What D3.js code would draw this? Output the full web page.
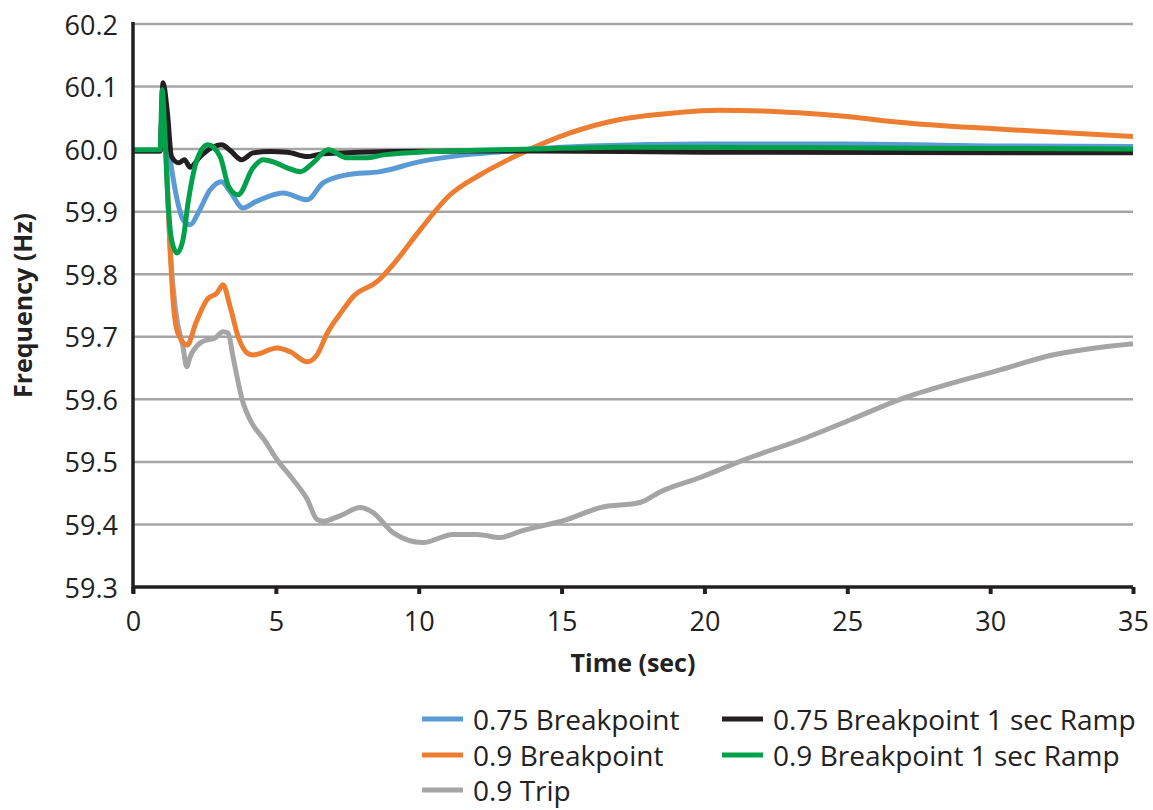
<!DOCTYPE html>
<html>
<head>
<meta charset="utf-8">
<script src="https://cdn.jsdelivr.net/npm/d3@7"></script>
<style>
  html, body { margin: 0; padding: 0; background: #fff; }
  svg { display: block; }
  text { font-family: "Open Sans", "Noto Sans", sans-serif; fill: #222; }
</style>
</head>
<body>
<svg id="chart" width="1153" height="810"></svg>
<script>
// ---- Data ----
const seriesNames = ["0.75 Breakpoint", "0.9 Breakpoint", "0.9 Trip", "0.75 Breakpoint 1 sec Ramp", "0.9 Breakpoint 1 sec Ramp"];
const seriesColors = ["#5b9bd5", "#ed7d31", "#a5a5a5", "#231f20", "#00a14b"];

const xTicks = [0, 5, 10, 15, 20, 25, 30, 35];
const yTicks = [59.3, 59.4, 59.5, 59.6, 59.7, 59.8, 59.9, 60.0, 60.1, 60.2];

const blueT = [0, 0.95, 1.05, 1.15, 1.3, 1.54, 1.75, 2.0, 2.28, 2.7, 3.1, 3.4, 3.85, 4.3, 5.25, 6.1, 6.65, 7.5, 8.65, 10.05, 11.45, 13, 14, 16, 20, 25, 30, 35];
const blueV = [59.997, 59.997, 60.09, 60.03, 59.983, 59.92, 59.887, 59.879, 59.898, 59.935, 59.948, 59.932, 59.906, 59.916, 59.930, 59.919, 59.946, 59.959, 59.964, 59.98, 59.99, 59.996, 60.0, 60.005, 60.008, 60.008, 60.005, 60.004];

const orangeT = [0, 0.95, 1.05, 1.15, 1.3, 1.4, 1.57, 1.9, 2.2, 2.6, 2.94, 3.15, 3.4, 3.68, 4.0, 4.2, 5.05, 5.5, 6.1, 6.44, 6.8, 7.35, 7.7, 8.54, 9.24, 10.05, 11.1, 12.15, 13.0, 13.9, 15.3, 17, 19, 20.5, 22, 23.3, 25, 26.8, 30.3, 35];
const orangeV = [59.997, 59.997, 60.09, 60.0, 59.84, 59.76, 59.706, 59.687, 59.722, 59.76, 59.77, 59.783, 59.748, 59.70, 59.674, 59.671, 59.682, 59.676, 59.66, 59.671, 59.706, 59.743, 59.764, 59.788, 59.823, 59.871, 59.927, 59.959, 59.98, 60.0, 60.026, 60.047, 60.058, 60.062, 60.061, 60.058, 60.052, 60.043, 60.032, 60.02];

const grayT = [0, 0.95, 1.05, 1.15, 1.3, 1.5, 1.75, 1.88, 2.0, 2.35, 2.6, 2.87, 3.15, 3.33, 3.5, 3.85, 4.1, 4.6, 5.05, 5.6, 6.1, 6.44, 6.65, 7.3, 7.95, 8.4, 9.1, 10.15, 11.2, 12.05, 12.85, 13.55, 15.2, 16.35, 17.75, 18.45, 19.85, 21.6, 23.35, 25.1, 26.85, 28.6, 30.35, 32.1, 35];
const grayV = [59.997, 59.997, 60.09, 60.0, 59.84, 59.74, 59.684, 59.652, 59.668, 59.69, 59.695, 59.698, 59.708, 59.706, 59.668, 59.595, 59.567, 59.535, 59.503, 59.472, 59.44, 59.408, 59.405, 59.415, 59.427, 59.419, 59.387, 59.371, 59.384, 59.384, 59.379, 59.389, 59.408, 59.427, 59.435, 59.452, 59.475, 59.507, 59.535, 59.567, 59.6, 59.625, 59.647, 59.67, 59.689];

const blackT = [0, 0.95, 1.05, 1.2, 1.35, 1.6, 1.8, 2.0, 2.35, 2.75, 3.1, 3.4, 3.8, 4.2, 4.8, 5.4, 6.1, 6.55, 7.5, 9, 12, 14, 20, 35];
const blackV = [59.997, 59.997, 60.106, 60.06, 59.988, 59.978, 59.983, 59.971, 59.988, 60.002, 60.007, 59.998, 59.983, 59.994, 59.996, 59.995, 59.988, 59.992, 59.994, 59.996, 59.997, 59.997, 59.995, 59.994];

const greenT = [0, 0.95, 1.02, 1.12, 1.22, 1.35, 1.54, 1.75, 1.93, 2.24, 2.62, 3.05, 3.35, 3.68, 4.2, 4.55, 5.0, 5.4, 5.85, 6.3, 6.83, 7.5, 8.2, 8.65, 10, 12, 14, 17, 20, 25, 30, 35];
const greenV = [59.999, 59.999, 60.095, 60.02, 59.92, 59.855, 59.834, 59.855, 59.915, 59.983, 60.007, 59.988, 59.94, 59.927, 59.97, 59.983, 59.978, 59.97, 59.964, 59.978, 59.999, 59.986, 59.986, 59.99, 59.995, 59.998, 60.0, 60.003, 60.003, 60.002, 60.001, 60.0];

const seriesT = [blueT, orangeT, grayT, blackT, greenT];
const seriesV = [blueV, orangeV, grayV, blackV, greenV];
const drawOrder = [2, 1, 0, 3, 4];

// ---- Layout ----
const svg = d3.select("#chart");
const x = d3.scaleLinear().domain([0, 35]).range([133, 1133]);
const y = d3.scaleLinear().domain([59.3, 60.2]).range([587, 24]);

// gridlines
svg.append("g").selectAll("line").data(yTicks.filter(d => d > 59.3)).join("line")
  .attr("x1", x(0)).attr("x2", x(35))
  .attr("y1", d => y(d)).attr("y2", d => y(d))
  .attr("stroke", "#a6a6a6").attr("stroke-width", 2.5);

// y tick labels
svg.append("g").selectAll("text").data(yTicks).join("text")
  .attr("x", 118).attr("y", d => y(d))
  .attr("text-anchor", "end").attr("dominant-baseline", "central")
  .attr("font-size", 27)
  .text(d => d.toFixed(1));

// lines
const line = d3.line().curve(d3.curveMonotoneX).x(d => x(d[0])).y(d => y(d[1]));
const gLines = svg.append("g");
drawOrder.forEach(i => {
  const pts = seriesT[i].map((t, k) => [t, seriesV[i][k]]);
  gLines.append("path").datum(pts)
    .attr("d", line)
    .attr("fill", "none")
    .attr("stroke", seriesColors[i])
    .attr("stroke-width", 5)
    .attr("stroke-linejoin", "round")
    .attr("stroke-linecap", "butt");
});

// x axis
const xAxis = d3.axisBottom(x).tickValues(xTicks).tickSize(7).tickFormat(d3.format("d"));
const gx = svg.append("g").attr("transform", `translate(0,${y(59.3)})`).call(xAxis);
gx.select(".domain").attr("stroke", "#231f20").attr("stroke-width", 3.5).attr("d", `M${x(0)},0H${x(35)}`);
gx.selectAll(".tick line").attr("stroke", "#231f20").attr("stroke-width", 4);
gx.selectAll(".tick text").attr("font-size", 27).attr("font-family", '"Open Sans", sans-serif')
  .attr("fill", "#222").attr("y", 33).attr("dy", null).attr("dominant-baseline", "central");

// y axis line
svg.append("line").attr("x1", x(0)).attr("x2", x(0)).attr("y1", y(60.2) - 2).attr("y2", y(59.3) + 6)
  .attr("stroke", "#231f20").attr("stroke-width", 3.5);

// axis titles
svg.append("text").attr("x", x(17.5)).attr("y", 662)
  .attr("text-anchor", "middle").attr("dominant-baseline", "central")
  .attr("font-size", 25).attr("font-weight", "bold").text("Time (sec)");
svg.append("text").attr("transform", `translate(22,${y(59.75)}) rotate(-90)`)
  .attr("text-anchor", "middle").attr("dominant-baseline", "central")
  .attr("font-size", 25).attr("font-weight", "bold").text("Frequency (Hz)");

// legend
const legendPos = [[422, 719], [422, 755], [422, 790], [722, 719], [722, 755]];
const gLeg = svg.append("g");
seriesNames.forEach((name, i) => {
  const [lx, ly] = legendPos[i];
  gLeg.append("line").attr("x1", lx).attr("x2", lx + 41).attr("y1", ly).attr("y2", ly)
    .attr("stroke", seriesColors[i]).attr("stroke-width", 5);
  gLeg.append("text").attr("x", lx + 51).attr("y", ly)
    .attr("dominant-baseline", "central").attr("font-size", 28).text(name);
});
</script>
</body>
</html>
